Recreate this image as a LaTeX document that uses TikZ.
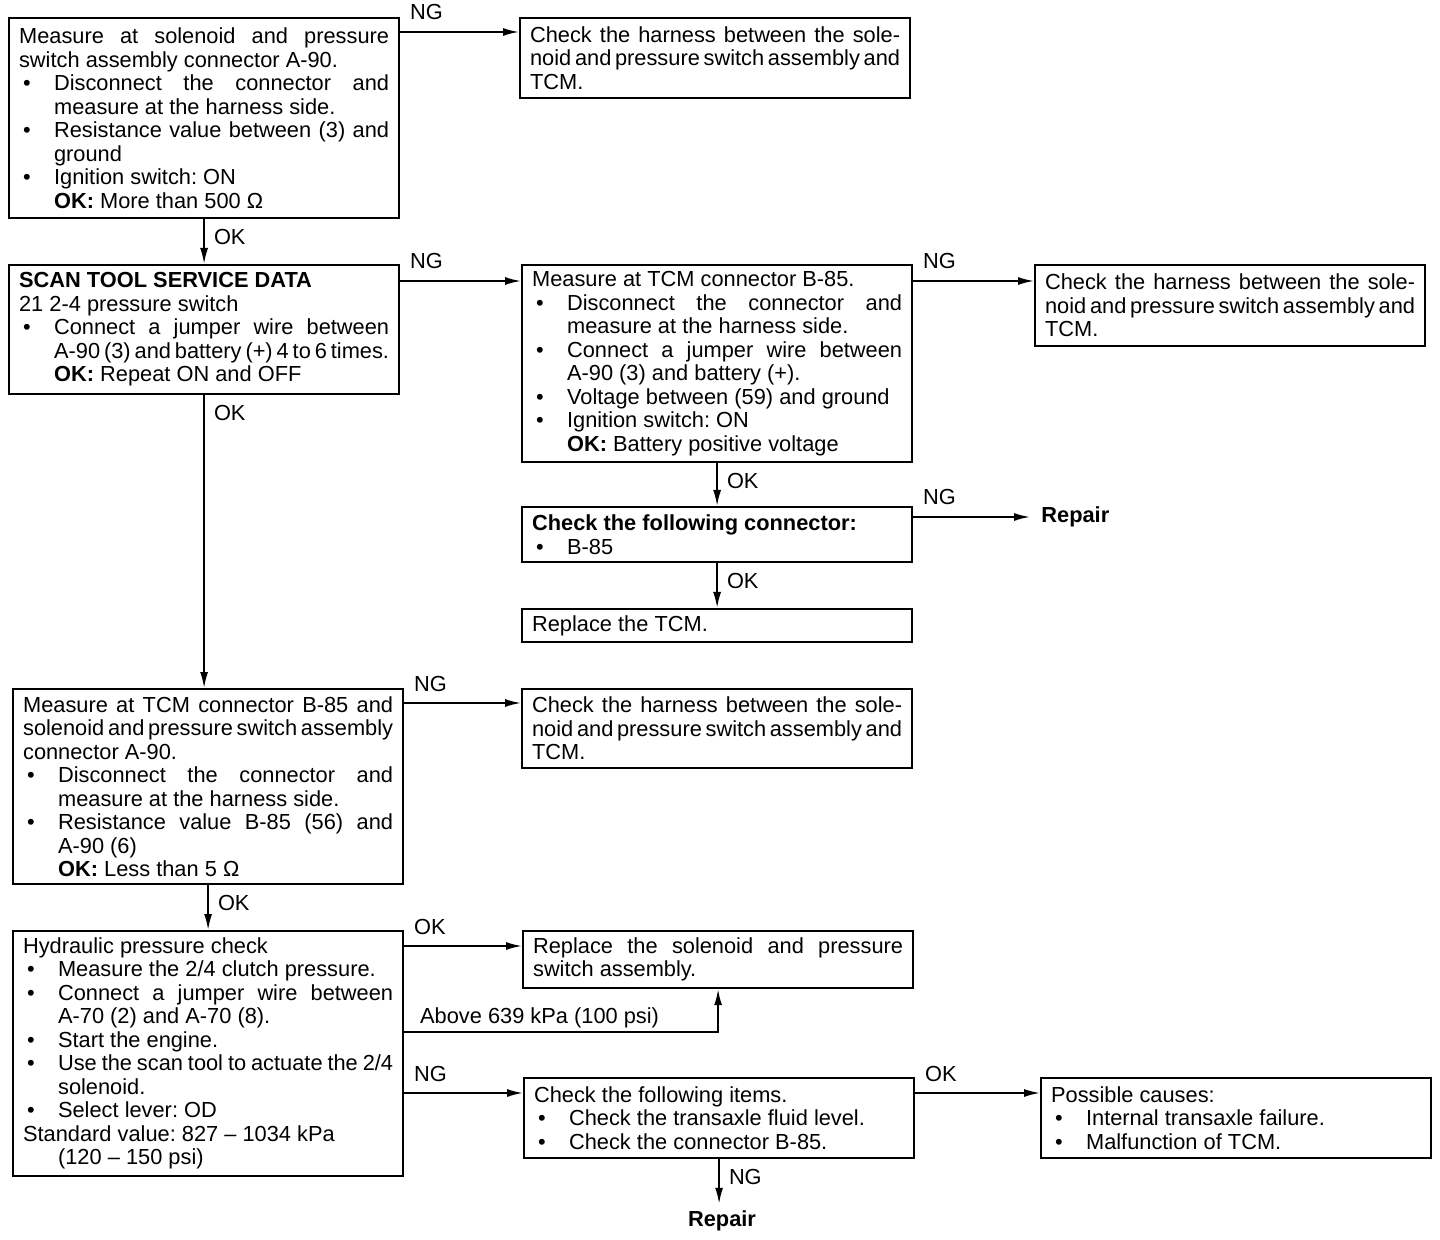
\documentclass[tikz,border=0pt]{standalone}
\usepackage{fontspec}
\setmainfont{Liberation Sans}
\usepackage{tikz}
\usetikzlibrary{arrows.meta, calc}
\tikzset{>={Latex[length=8pt,width=4pt]}}
\newcommand{\boxfont}{\fontsize{10.9}{11.75}\selectfont\frenchspacing
  \spaceskip=.28em plus .4em minus .2em\hyphenpenalty=10000\exhyphenpenalty=10000}
\newcommand{\bul}{\par\noindent\hangindent=17.5pt\hangafter=1\makebox[17.5pt][l]{\hspace{2pt}\textbullet}\ignorespaces}
\newcommand{\nl}{\hfil\penalty-10000\relax}

\begin{document}
\begin{tikzpicture}[x=0.5pt, y=-0.5pt,
  stepbox/.style={draw, line width=1.1pt, anchor=north west, text width=185pt,
    align=justify, inner xsep=5pt, inner ysep=2pt, font=\boxfont},
  arr/.style={->, line width=0.9pt},
  hlbl/.style={anchor=base west, inner sep=0pt, xshift=4.5pt, yshift=6pt, font=\boxfont},
  vlbl/.style={anchor=north west, inner sep=0pt, xshift=4.5pt, yshift=-4.5pt, font=\boxfont},
  abv/.style={anchor=base west, inner sep=0pt, xshift=7.5pt, yshift=4.25pt, font=\boxfont},
  repair/.style={font=\boxfont\bfseries, inner xsep=5.5pt}]
\useasboundingbox (0,0) rectangle (1440,1240);

% left column
\node[stepbox, minimum height=100pt] (meas1) at (8,17) {Measure at solenoid and pressure\linebreak switch assembly connector A-90.
\bul Disconnect the connector and\linebreak measure at the harness side.
\bul Resistance value between (3) and\linebreak ground
\bul Ignition switch: ON\nl\textbf{OK:} More than 500 Ω\par};
\node[stepbox, minimum height=64.5pt] (scan) at (8,264) {\textbf{SCAN TOOL SERVICE DATA}\par
21 2-4 pressure switch
\bul Connect a jumper wire between\linebreak A-90 (3) and battery (+) 4 to 6 times.\nl\textbf{OK:} Repeat ON and OFF\par};
\node[stepbox, minimum height=97.5pt] (tcm2) at (12,688) {Measure at TCM connector B-85 and\linebreak solenoid and pressure switch assembly\linebreak connector A-90.
\bul Disconnect the connector and\linebreak measure at the harness side.
\bul Resistance value B-85 (56) and\linebreak A-90 (6)\nl\textbf{OK:} Less than 5 Ω\par};
\node[stepbox, minimum height=122.5pt] (hyd) at (12,930) {Hydraulic pressure check
\bul Measure the 2/4 clutch pressure.
\bul Connect a jumper wire between\linebreak A-70 (2) and A-70 (8).
\bul Start the engine.
\bul Use the scan tool to actuate the 2/4\linebreak solenoid.
\bul Select lever: OD
\par Standard value: 827 – 1034 kPa\nl\hspace*{17.5pt}(120 – 150 psi)};

% middle column
\node[stepbox, minimum height=40pt] (harn1) at (519,17) {Check the harness between the sole-\linebreak noid and pressure switch assembly and\linebreak TCM.};
\node[stepbox, minimum height=98.5pt] (tcm1) at (521,264) {Measure at TCM connector B-85.
\bul Disconnect the connector and\linebreak measure at the harness side.
\bul Connect a jumper wire between\linebreak A-90 (3) and battery (+).
\bul Voltage between (59) and ground
\bul Ignition switch: ON\nl\textbf{OK:} Battery positive voltage\par};
\node[stepbox, minimum height=27.5pt] (conn1) at (521,506) {\textbf{Check the following connector:}
\bul B-85\par};
\node[stepbox, minimum height=16.5pt] (tcmrep) at (521,608) {Replace the TCM.};
\node[stepbox, minimum height=39.5pt] (harn3) at (521,688) {Check the harness between the sole-\linebreak noid and pressure switch assembly and\linebreak TCM.};
\node[stepbox, minimum height=28.5pt] (solrep) at (522,930) {Replace the solenoid and pressure\linebreak switch assembly.};
\node[stepbox, minimum height=40pt] (items) at (523,1077) {Check the following items.
\bul Check the transaxle fluid level.
\bul Check the connector B-85.\par};
\node[repair] (rep2) at (722,1221) {Repair};

% right column
\node[stepbox, minimum height=40.5pt] (harn2) at (1034,264) {Check the harness between the sole-\linebreak noid and pressure switch assembly and\linebreak TCM.};
\node[repair, anchor=west] (rep1) at (1030,517) {Repair};
\node[stepbox, minimum height=40pt] (causes) at (1040,1077) {Possible causes:
\bul Internal transaxle failure.
\bul Malfunction of TCM.\par};

% connectors
\draw[arr] ([yshift=-7.5pt]meas1.north east) node[hlbl]{NG} -- ([yshift=-7.5pt]harn1.north west);
\draw[arr] (meas1.south) node[vlbl]{OK} -- (meas1.south |- scan.north);
\draw[arr] ([yshift=-8.5pt]scan.north east) node[hlbl]{NG} -- ([yshift=-8.5pt]tcm1.north west);
\draw[arr] ([yshift=-8.5pt]tcm1.north east) node[hlbl]{NG} -- ([yshift=-8.5pt]harn2.north west);
\draw[arr] (tcm1.south) node[vlbl]{OK} -- (tcm1.south |- conn1.north);
\draw[arr] (rep1.west -| conn1.east) node[hlbl]{NG} -- (rep1.west);
\draw[arr] (conn1.south) node[vlbl]{OK} -- (conn1.south |- tcmrep.north);
\draw[arr] (scan.south) node[vlbl]{OK} -- (scan.south |- tcm2.north);
\draw[arr] ([yshift=-7.5pt]tcm2.north east) node[hlbl]{NG} -- ([yshift=-7.5pt]harn3.north west);
\draw[arr] (tcm2.south) node[vlbl]{OK} -- (tcm2.south |- hyd.north);
\draw[arr] ([yshift=-8pt]hyd.north east) node[hlbl]{OK} -- ([yshift=-8pt]solrep.north west);
\draw[arr] ([yshift=-51pt]hyd.north east) node[abv]{Above 639 kPa (100 psi)} -| (solrep.south);
\coordinate (ngpt) at ([yshift=-8pt]items.north west);
\draw[arr] (ngpt -| hyd.east) node[hlbl]{NG} -- (ngpt);
\draw[arr] ([yshift=-8pt]items.north east) node[hlbl]{OK} -- ([yshift=-8pt]causes.north west);
\draw[arr] (items.south) node[vlbl]{NG} -- (items.south |- rep2.north);
\end{tikzpicture}
\end{document}
